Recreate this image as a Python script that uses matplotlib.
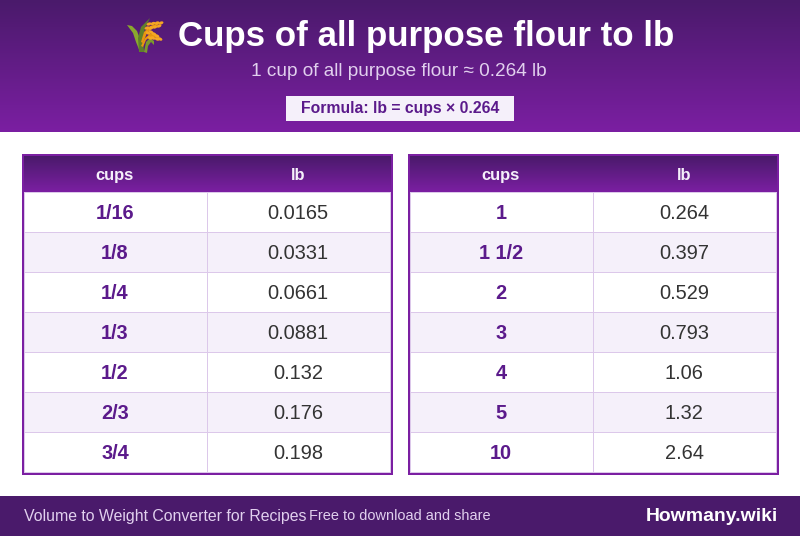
import numpy as np
import matplotlib
matplotlib.use("Agg")
import matplotlib.pyplot as plt
from matplotlib.patches import Rectangle, Polygon, Ellipse
from matplotlib.colors import LinearSegmentedColormap

plt.rcParams['font.family'] = ['Liberation Sans', 'DejaVu Sans']

title = "Cups of all purpose flour to lb"
subtitle = "1 cup of all purpose flour ≈ 0.264 lb"
formula = "Formula: lb = cups × 0.264"
columns = ["cups", "lb"]
left_cups = ["1/16", "1/8", "1/4", "1/3", "1/2", "2/3", "3/4"]
left_lb = ["0.0165", "0.0331", "0.0661", "0.0881", "0.132", "0.176", "0.198"]
right_cups = ["1", "1 1/2", "2", "3", "4", "5", "10"]
right_lb = ["0.264", "0.397", "0.529", "0.793", "1.06", "1.32", "2.64"]
footer_left = "Volume to Weight Converter for Recipes"
footer_mid = "Free to download and share"
brand = "Howmany.wiki"

DARK, MID, PALE, LINE, INK = "#4a1a6b", "#7b1fa2", "#f5f0fa", "#dcc8ea", "#333333"
TEXTDARK = "#5b1a8b"
px = 0.72

fig = plt.figure(figsize=(8, 5.36), dpi=100)
ax = fig.add_axes([0, 0, 1, 1])
ax.set_xlim(0, 800); ax.set_ylim(536, 0); ax.axis("off")
grad = LinearSegmentedColormap.from_list("g", [DARK, MID])
ramp = np.linspace(0, 1, 256)[:, None]

def gradient(x0, x1, y0, y1, z=1):
    ax.imshow(ramp, cmap=grad, extent=(x0, x1, y1, y0), aspect="auto", zorder=z, interpolation="bilinear")

def box(x, y, w, h, c, z):
    ax.add_patch(Rectangle((x, y), w, h, fc=c, ec="none", lw=0, antialiased=False, zorder=z))

gradient(0, 800, 0, 132)

# Sheaf of rice, drawn in place of the colour emoji
def poly(pts, c, z=3):
    ax.add_patch(Polygon(pts, closed=True, fc=c, ec="none", zorder=z))
poly([(127,25),(132,26),(137,31),(141,42),(144,52),(140,52),(136,42),(133,33)], "#8aa82e")
poly([(139,52),(138,38),(141,27),(150,18),(145,28),(143,38),(144,52)], "#5f7f2a")
poly([(144,52),(146,42),(150,38),(154,41),(154,45),(151,42),(148,46),(147,53)], "#7c9a2c")
poly([(141,42),(144,32),(150,26),(162,22),(153,28),(147,33),(143,43)], "#e8960f", 4)
poly([(141,46),(145,38),(151,33),(160,38),(150,37),(146,40),(143,47)], "#e8960f", 4)
for x, y in [(149,24),(153,23.5),(157,23),(161,23),(147,28),(151,28),(155,27),(159,26),
             (148,33),(151,32),(150,38),(154,34),(153,38),(157,36),(157,39),(160,39)]:
    ax.add_patch(Ellipse((x, y), 5, 3, angle=-20 if y < 31 else 25, fc="#f5a623", ec="none", zorder=5))

ax.text(426, 36.5, title, color="white", fontsize=34.9*px, fontweight="bold", ha="center", va="center", zorder=6)
ax.text(399, 71.5, subtitle, color="#e1d0ee", fontsize=19*px, ha="center", va="center", zorder=6)
box(286, 96, 228, 25, PALE, 3)
ax.text(400, 109, formula, color=TEXTDARK, fontsize=15.7*px, fontweight="bold", ha="center", va="center", zorder=6)

def table(x0, cups, lbs):
    W, TOP, HEAD, ROW = 371, 154, 38, 40
    n = len(cups)
    H = HEAD + n*ROW + 3
    xc0, xc1 = x0 + 93, x0 + 276
    box(x0, TOP, W, H, MID, 1)
    box(x0+2, TOP+HEAD, W-4, H-HEAD-2, LINE, 1.1)
    for i in range(n):
        y = TOP + HEAD + i*ROW + 1
        fill = PALE if i % 2 else "white"
        box(x0+3, y, 182, ROW-1, fill, 1.5)
        box(x0+186, y, W-189, ROW-1, fill, 1.5)
        ax.text(xc0, y+20.5, cups[i], color=TEXTDARK, fontsize=20*px, fontweight="bold", ha="center", va="center", zorder=4)
        ax.text(xc1, y+20.5, lbs[i], color=INK, fontsize=20*px, ha="center", va="center", zorder=4)
    gradient(x0+2, x0+W-2, TOP+2, TOP+HEAD, 2.5)
    for xc, label in zip((xc0, xc1), columns):
        ax.text(xc, TOP+21.5, label, color=PALE, fontsize=16.5*px, fontweight="bold", ha="center", va="center", zorder=4)

table(22, left_cups, left_lb)
table(408, right_cups, right_lb)

box(0, 496, 800, 40, DARK, 3)
ax.text(24, 516.5, footer_left, color="#e1d0ee", fontsize=15.9*px, ha="left", va="center", zorder=4)
ax.text(309, 516.5, footer_mid, color="#e1d0ee", fontsize=14.5*px, ha="left", va="center", zorder=4)
ax.text(778, 516.5, brand, color="white", fontsize=19.4*px, fontweight="bold", ha="right", va="center", zorder=4)

ax.set_xlim(0, 800); ax.set_ylim(536, 0)
fig.savefig("out.png", dpi=100)
